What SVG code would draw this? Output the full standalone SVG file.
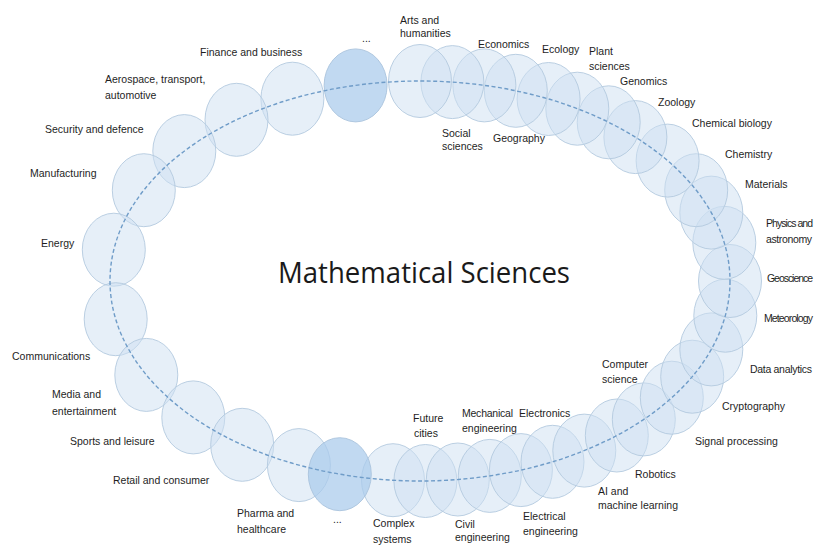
<svg xmlns="http://www.w3.org/2000/svg" width="815" height="547" viewBox="0 0 815 547">
<style>
.c{fill:#cddff1;fill-opacity:0.5;stroke:#b3c9df;stroke-width:0.9}
.d{fill:#a9cbec;fill-opacity:0.72;stroke:#a9c3dd;stroke-width:0.9}
.t{font-family:"Liberation Sans",Arial,sans-serif;font-size:10.5px;fill:#1e1e1e}
.title{font-family:"Open Sans","Liberation Sans",sans-serif;font-size:30px;fill:#1a1a1a}
.dash{fill:none;stroke:#6f9cc8;stroke-width:1.4;stroke-dasharray:4 2.5}
</style>
<defs>
<ellipse id="b" rx="31.5" ry="36.5"/>
</defs>
<rect width="815" height="547" fill="#ffffff"/>
<g id="n-finance"><use href="#b" class="c" x="292.4" y="98.7"/><text class="t" x="200" y="56">Finance and business</text></g>
<g id="n-aerospace"><use href="#b" class="c" x="236.5" y="119.8"/><text class="t" x="105" y="83">Aerospace, transport,</text><text class="t" x="105" y="99">automotive</text></g>
<g id="n-security"><use href="#b" class="c" x="184.3" y="151.1"/><text class="t" x="45" y="133">Security and defence</text></g>
<g id="n-manufacturing"><use href="#b" class="c" x="143.8" y="190.2"/><text class="t" x="30" y="177">Manufacturing</text></g>
<g id="n-energy"><use href="#b" class="c" x="113.8" y="249.7"/><text class="t" x="41" y="247">Energy</text></g>
<g id="n-communications"><use href="#b" class="c" x="115.7" y="319.2"/><text class="t" x="12" y="360">Communications</text></g>
<g id="n-media"><use href="#b" class="c" x="146.3" y="374.9"/><text class="t" x="52" y="398">Media and</text><text class="t" x="52" y="415">entertainment</text></g>
<g id="n-sports"><use href="#b" class="c" x="193.3" y="417.4"/><text class="t" x="70" y="445">Sports and leisure</text></g>
<g id="n-retail"><use href="#b" class="c" x="242.2" y="444.8"/><text class="t" x="113" y="484">Retail and consumer</text></g>
<g id="n-pharma"><use href="#b" class="c" x="298.9" y="465.1"/><text class="t" x="237" y="517">Pharma and</text><text class="t" x="237" y="533">healthcare</text></g>
<g id="n-complex"><use href="#b" class="c" x="393.0" y="480.2"/><text class="t" x="373" y="527">Complex</text><text class="t" x="373" y="543">systems</text></g>
<g id="n-future"><use href="#b" class="c" x="425.4" y="481.0"/><text class="t" x="413" y="422">Future</text><text class="t" x="414" y="437">cities</text></g>
<g id="n-civil"><use href="#b" class="c" x="457.8" y="479.5"/><text class="t" x="455" y="528">Civil</text><text class="t" x="455" y="541">engineering</text></g>
<g id="n-mechanical"><use href="#b" class="c" x="489.8" y="475.9"/><text class="t" x="462" y="417" textLength="51">Mechanical</text><text class="t" x="462" y="432">engineering</text></g>
<g id="n-electrical"><use href="#b" class="c" x="520.9" y="470.1"/><text class="t" x="523" y="520">Electrical</text><text class="t" x="523" y="535">engineering</text></g>
<g id="n-electronics"><use href="#b" class="c" x="552.5" y="461.8"/><text class="t" x="519" y="417">Electronics</text></g>
<g id="n-ai"><use href="#b" class="c" x="584.3" y="450.6"/><text class="t" x="598" y="495">AI and</text><text class="t" x="598" y="509">machine learning</text></g>
<g id="n-robotics"><use href="#b" class="c" x="616.8" y="435.5"/><text class="t" x="635" y="478">Robotics</text></g>
<g id="n-computer"><use href="#b" class="c" x="643.8" y="419.4"/><text class="t" x="602" y="368">Computer</text><text class="t" x="602" y="383">science</text></g>
<g id="n-signal"><use href="#b" class="c" x="671.8" y="397.7"/><text class="t" x="695" y="445">Signal processing</text></g>
<g id="n-crypto"><use href="#b" class="c" x="692.2" y="376.7"/><text class="t" x="722" y="410">Cryptography</text></g>
<g id="n-data"><use href="#b" class="c" x="711.3" y="349.4"/><text class="t" x="750" y="373" textLength="62">Data analytics</text></g>
<g id="n-meteorology"><use href="#b" class="c" x="725.3" y="315.7"/><text class="t" x="764" y="322" textLength="49">Meteorology</text></g>
<g id="n-geoscience"><use href="#b" class="c" x="730" y="281"/><text class="t" x="767" y="282" textLength="46">Geoscience</text></g>
<g id="n-physics"><use href="#b" class="c" x="724.3" y="242.8"/><text class="t" x="766" y="227" textLength="47">Physics and</text><text class="t" x="766" y="243" textLength="46">astronomy</text></g>
<g id="n-materials"><use href="#b" class="c" x="711.3" y="212.6"/><text class="t" x="745" y="188">Materials</text></g>
<g id="n-chemistry"><use href="#b" class="c" x="696.2" y="190.2"/><text class="t" x="725" y="158">Chemistry</text></g>
<g id="n-chembio"><use href="#b" class="c" x="667.6" y="160.6"/><text class="t" x="692" y="127">Chemical biology</text></g>
<g id="n-zoology"><use href="#b" class="c" x="635.4" y="137.1"/><text class="t" x="658" y="106">Zoology</text></g>
<g id="n-genomics"><use href="#b" class="c" x="608.7" y="122.3"/><text class="t" x="620" y="85">Genomics</text></g>
<g id="n-plant"><use href="#b" class="c" x="577.3" y="108.7"/><text class="t" x="589" y="55">Plant</text><text class="t" x="589" y="70">sciences</text></g>
<g id="n-ecology"><use href="#b" class="c" x="548.6" y="99.0"/><text class="t" x="542" y="53">Ecology</text></g>
<g id="n-geography"><use href="#b" class="c" x="515.8" y="90.8"/><text class="t" x="493" y="142">Geography</text></g>
<g id="n-economics"><use href="#b" class="c" x="484.4" y="85.4"/><text class="t" x="478" y="48">Economics</text></g>
<g id="n-social"><use href="#b" class="c" x="452.4" y="82.1"/><text class="t" x="442" y="137">Social</text><text class="t" x="442" y="150">sciences</text></g>
<g id="n-arts"><use href="#b" class="c" x="420" y="81"/><text class="t" x="400" y="24">Arts and</text><text class="t" x="400" y="37">humanities</text></g>
<g id="n-more-top"><use href="#b" class="d" x="355.6" y="85.4"/><text class="t" x="362" y="42">...</text></g>
<g id="n-more-bottom"><use href="#b" class="d" x="339.8" y="474.2"/><text class="t" x="333" y="523">...</text></g>
<g id="connectors"><ellipse class="dash" cx="420" cy="281" rx="310" ry="200"/></g>
<g id="n-center"><text class="title" x="278" y="283" textLength="292" lengthAdjust="spacingAndGlyphs">Mathematical Sciences</text></g>
</svg>
